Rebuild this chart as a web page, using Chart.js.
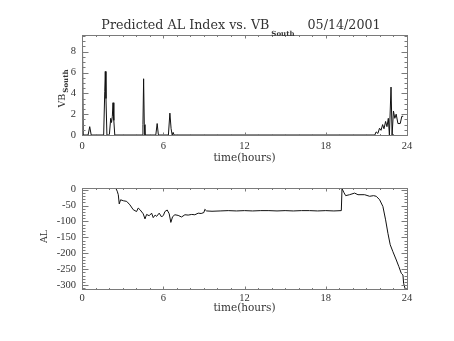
<!DOCTYPE html>
<html lang="en">
<head>
<meta charset="UTF-8" />
<title>Predicted AL Index vs. VB South</title>
<script src="https://cdn.jsdelivr.net/npm/chart.js"></script>
<style>
  body { margin: 0; background: #fff; }
  .panel { position: absolute; left: 0; width: 454px; }
  #top { top: 0; height: 170px; }
  #bottom { top: 170px; height: 171px; }
</style>
</head>
<body>
<div class="panel" id="top"><canvas id="vbChart" width="454" height="170"></canvas></div>
<div class="panel" id="bottom"><canvas id="alChart" width="454" height="171"></canvas></div>
<script>
  const hourTicks = [0, 6, 12, 18, 24];
  const vbTicks = [0, 2, 4, 6, 8];
  const alTicks = [0, -50, -100, -150, -200, -250, -300];

  // VB south, time in hours
  const vbTime = [0, 0.02, 0.05, 0.09, 0.45, 0.57, 0.68, 1.6, 1.68, 1.72, 1.77, 1.84,
    2.02, 2.12, 2.18, 2.24, 2.29, 2.35, 2.42, 4.46, 4.5, 4.55, 4.6, 4.65, 5.45, 5.55, 5.64,
    6.38, 6.49, 6.58, 6.66, 6.73, 6.8, 21.62, 21.72, 21.85, 21.97, 22.08, 22.2, 22.3, 22.42,
    22.52, 22.62, 22.7, 22.82, 22.9, 23.0, 23.1, 23.2, 23.33, 23.5, 23.62, 23.72];
  const vbValue = [9.9, 6.6, 9.0, 0, 0, 0.8, 0, 0, 4.2, 6.1, 3.5, 0,
    0, 1.6, 1.2, 1.8, 3.1, 1.4, 0, 0, 1.0, 5.4, 1.0, 0, 0, 1.1, 0,
    0, 2.1, 0.6, 0, 0.25, 0, 0, 0.3, 0.15, 0.65, 0.45, 1.0, 0.6, 1.3,
    0.8, 1.6, 0, 4.6, 0, 2.3, 1.6, 2.0, 1.1, 1.1, 1.8, 1.8];

  // predicted AL index (nT)
  const alTime = [2.5, 2.6, 2.68, 2.75, 2.85, 3.05, 3.3, 3.54, 3.78, 4.03, 4.15, 4.28, 4.52,
    4.65, 4.77, 4.96, 5.14, 5.26, 5.4, 5.51, 5.7, 5.88, 6.02, 6.12, 6.29, 6.44, 6.56, 6.69,
    6.86, 7.1, 7.35, 7.6, 7.84, 8.1, 8.33, 8.58, 8.8, 9.0, 9.07, 9.2, 9.6, 10.2, 10.8, 11.4,
    12, 12.6, 13.2, 13.8, 14.4, 15, 15.6, 16.2, 16.8, 17.4, 18, 18.6, 19.15, 19.2, 19.35,
    19.47, 19.76, 20.13, 20.38, 20.87, 21.24, 21.53, 21.73, 21.98, 22.22, 22.42, 22.59,
    22.76, 22.96, 23.21, 23.4, 23.58, 23.7, 23.75, 23.86];
  const alValue = [4, -5, -16, -45, -32, -35, -37, -48, -63, -69, -58, -63, -76,
    -92, -78, -82, -74, -88, -80, -84, -74, -86, -80, -69, -64, -76, -103, -85,
    -79, -81, -86, -79, -80, -78, -79, -74, -75, -72, -62, -67, -68, -67, -66, -67,
    -66, -67, -66, -66, -67, -66, -67, -66, -66, -67, -66, -67, -66, 3, -10,
    -19, -16, -11, -16, -16, -21, -19, -21, -32, -53, -95, -137,
    -173, -195, -221, -242, -263, -268, -294, -311];

  const serif = "'DejaVu Serif', serif";
  const tickFont = { family: "'Liberation Serif', serif", size: 10.5 };
  const ink = '#333';
  const frameColor = '#7a7a7a';

  function points(t, v) {
    return t.map((x, i) => ({ x: x, y: v[i] }));
  }

  // frame with inward ticks on all four sides
  const boxPlugin = {
    id: 'box',
    afterDraw(chart, args, opts) {
      const { ctx, chartArea: a } = chart;
      const xs = chart.scales.x, ys = chart.scales.y;
      const l = Math.round(a.left) + 0.5, r = Math.round(a.right) + 0.5;
      const t = Math.round(a.top) + 0.5, b = Math.round(a.bottom) + 0.5;
      ctx.save();
      ctx.strokeStyle = frameColor;
      ctx.lineWidth = 1;
      ctx.strokeRect(l, t, r - l, b - t);
      ctx.beginPath();
      for (let h = 0; h <= 24; h++) {
        const px = Math.round(xs.getPixelForValue(h)) + 0.5;
        const len = h % 6 === 0 ? 3 : 1.5;
        ctx.moveTo(px, b); ctx.lineTo(px, b - len);
        ctx.moveTo(px, t); ctx.lineTo(px, t + len);
      }
      const k0 = Math.ceil(ys.min / opts.minor), k1 = Math.floor(ys.max / opts.minor);
      for (let k = k0; k <= k1; k++) {
        const v = k * opts.minor;
        const py = Math.round(ys.getPixelForValue(v)) + 0.5;
        const len = Math.abs(v % opts.major) < 1e-6 ? 6 : 3;
        ctx.moveTo(l, py); ctx.lineTo(l + len, py);
        ctx.moveTo(r, py); ctx.lineTo(r - len, py);
      }
      ctx.stroke();
      ctx.restore();
    }
  };

  // titles, some with subscripts
  const textPlugin = {
    id: 'texts',
    afterDraw(chart, args, opts) {
      const ctx = chart.ctx, a = chart.chartArea;
      ctx.save();
      ctx.fillStyle = ink;
      ctx.textBaseline = 'alphabetic';
      ctx.textAlign = 'left';

      if (opts.title) {
        const main = 'Predicted AL Index vs. VB', date = '05/14/2001';
        ctx.font = '12.7px ' + serif;
        const w1 = ctx.measureText(main).width, w3 = ctx.measureText(date).width;
        ctx.font = 'bold 7px ' + serif;
        const w2 = ctx.measureText('South').width;
        let x = 241 - (w1 + 2 + w2 + 13 + w3) / 2;
        ctx.font = '12.7px ' + serif;
        ctx.fillText(main, x, 29);
        ctx.font = 'bold 7px ' + serif;
        ctx.fillText('South', x + w1 + 2, 36);
        ctx.font = '12.7px ' + serif;
        ctx.fillText(date, x + w1 + 2 + w2 + 13, 29);
      }

      // x axis title
      ctx.font = '10.5px ' + serif;
      ctx.textAlign = 'center';
      ctx.textBaseline = 'middle';
      ctx.fillText('time(hours)', (a.left + a.right) / 2, opts.xTitleY);

      // rotated y axis title
      const y = opts.yTitle;
      ctx.translate(y.x, (a.top + a.bottom) / 2 + y.dy);
      ctx.rotate(-Math.PI / 2);
      ctx.textAlign = 'left';
      ctx.textBaseline = 'alphabetic';
      ctx.font = '9.5px ' + serif;
      const wm = ctx.measureText(y.text).width;
      let ws = 0;
      if (y.sub) {
        ctx.font = 'bold 7px ' + serif;
        ws = ctx.measureText(y.sub).width;
      }
      const x0 = -(wm + ws) / 2;
      ctx.font = '9.5px ' + serif;
      ctx.fillText(y.text, x0, 0);
      if (y.sub) {
        ctx.font = 'bold 7px ' + serif;
        ctx.fillText(y.sub, x0 + wm + 1, 2.5);
      }
      ctx.restore();
    }
  };

  function makeChart(id, cfg) {
    return new Chart(document.getElementById(id), {
      type: 'line',
      data: {
        datasets: [{
          data: cfg.data,
          borderColor: '#111',
          borderWidth: 1,
          pointRadius: 0,
          tension: 0,
          fill: false
        }]
      },
      options: {
        responsive: false,
        animation: false,
        parsing: false,
        layout: { padding: { top: cfg.top, right: 47, left: 0, bottom: 0 } },
        plugins: {
          legend: { display: false },
          tooltip: { enabled: false },
          box: cfg.box,
          texts: cfg.texts
        },
        scales: {
          x: {
            type: 'linear', min: 0, max: 24,
            grid: { display: false, drawTicks: false },
            border: { display: false },
            afterBuildTicks: s => { s.ticks = hourTicks.map(v => ({ value: v })); },
            afterFit: s => { s.height = cfg.xHeight; },
            ticks: { font: tickFont, color: ink, padding: cfg.xPad, maxRotation: 0, autoSkip: false }
          },
          y: {
            type: 'linear', min: cfg.yMin, max: cfg.yMax,
            grid: { display: false, drawTicks: false },
            border: { display: false },
            afterBuildTicks: s => { s.ticks = cfg.yTicks.map(v => ({ value: v })); },
            afterFit: s => { s.width = 82; },
            ticks: { font: tickFont, color: ink, padding: 6, autoSkip: false }
          }
        }
      },
      plugins: [boxPlugin, textPlugin]
    });
  }

  makeChart('vbChart', {
    data: points(vbTime, vbValue),
    top: 35, xHeight: 35, xPad: 5,
    yMin: 0, yMax: 9.6, yTicks: vbTicks,
    box: { minor: 0.5, major: 2 },
    texts: { title: true, xTitleY: 158, yTitle: { text: 'VB', sub: 'South', x: 65, dy: 4 } }
  });

  makeChart('alChart', {
    data: points(alTime, alValue),
    top: 18, xHeight: 52, xPad: 3,
    yMin: -312, yMax: 5, yTicks: alTicks,
    box: { minor: 10, major: 50 },
    texts: { title: false, xTitleY: 138, yTitle: { text: 'AL', sub: '', x: 47, dy: -2 } }
  });
</script>
</body>
</html>
